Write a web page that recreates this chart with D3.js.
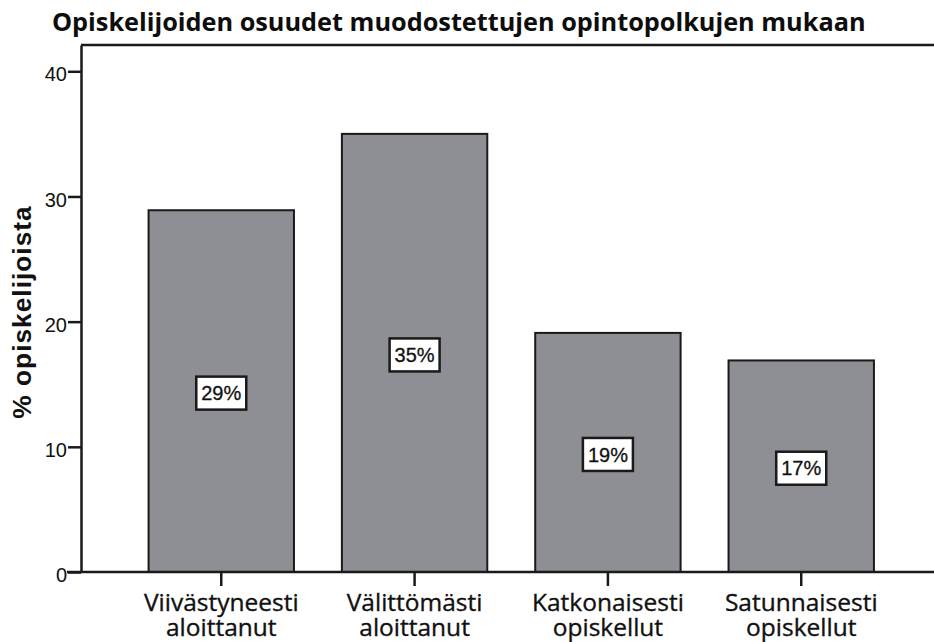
<!DOCTYPE html>
<html>
<head>
<meta charset="utf-8">
<script src="https://cdn.jsdelivr.net/npm/d3@7"></script>
<style>
  body { margin: 0; background: #fff; }
  svg { display: block; }
</style>
</head>
<body>
<svg id="chart" width="934" height="642"></svg>
<script>
// Data
var categories = ["Viivästyneesti aloittanut", "Välittömästi aloittanut", "Katkonaisesti opiskellut", "Satunnaisesti opiskellut"];
var lineOne = ["Viivästyneesti", "Välittömästi", "Katkonaisesti", "Satunnaisesti"];
var lineTwo = ["aloittanut", "aloittanut", "opiskellut", "opiskellut"];
var shares = [28.9, 35.0, 19.1, 16.9];
var yTicks = [0, 10, 20, 30, 40];

var TITLE = "Opiskelijoiden osuudet muodostettujen opintopolkujen mukaan";
var Y_LABEL = "% opiskelijoista";

var BAR_FILL = "#8e8f94";
var INK = "#1a1a1a";

var svg = d3.select("#chart");

// plot frame (note: "top" is reserved on window, so prefixed names)
var plotLeft = 81, plotRight = 934, plotTop = 45, plotBottom = 572;

var yScale = d3.scaleLinear()
    .domain([0, 42.1])
    .range([plotBottom, plotTop]);

var xScale = d3.scaleBand()
    .domain(categories)
    .range([124.6, 897.9])
    .paddingInner(0.248)
    .paddingOuter(0.124);

// fit a text node to a given width by changing its font size
function fitText(sel, width) {
  var size = parseFloat(sel.attr("font-size"));
  var w = sel.node().getComputedTextLength();
  sel.attr("font-size", (size * width / w).toFixed(2));
}

// ##### Title #####
var title = svg.append("text")
    .attr("x", 52)
    .attr("y", 31)
    .attr("font-family", "Open Sans")
    .attr("font-weight", "bold")
    .attr("font-size", 22)
    .attr("fill", "#0d0d0d")
    .text(TITLE);
fitText(title, 814);

// ##### Bars #####
svg.append("g").selectAll("rect")
    .data(shares)
    .enter()
    .append("rect")
    .attr("x", function (d, i) { return xScale(categories[i]); })
    .attr("y", function (d) { return yScale(d); })
    .attr("width", xScale.bandwidth())
    .attr("height", function (d) { return yScale(0) - yScale(d); })
    .attr("fill", BAR_FILL)
    .attr("stroke", INK)
    .attr("stroke-width", 2);

// ##### Frame and axes #####
svg.append("line")
    .attr("x1", plotLeft).attr("x2", plotRight)
    .attr("y1", plotTop).attr("y2", plotTop)
    .attr("stroke", INK).attr("stroke-width", 2.5);

var yAxis = d3.axisLeft(yScale)
    .tickValues(yTicks)
    .tickSize(13)
    .tickSizeOuter(0)
    .tickFormat(d3.format("d"));

var yg = svg.append("g")
    .attr("transform", "translate(" + plotLeft + ",0)")
    .call(yAxis);
yg.select(".domain").attr("stroke", INK).attr("stroke-width", 2.5);
yg.selectAll(".tick line").attr("stroke", INK).attr("stroke-width", 2.5);
yg.selectAll(".tick text")
    .attr("x", -14)
    .attr("dy", "0.48em")
    .attr("font-family", "Liberation Sans, Arial, sans-serif")
    .attr("font-size", 20)
    .attr("fill", "#111");

svg.append("line")
    .attr("x1", 67).attr("x2", plotRight)
    .attr("y1", plotBottom).attr("y2", plotBottom)
    .attr("stroke", INK).attr("stroke-width", 2.5);

var xAxis = d3.axisBottom(xScale)
    .tickSize(14)
    .tickSizeOuter(0)
    .tickFormat("");

var xg = svg.append("g")
    .attr("transform", "translate(0," + plotBottom + ")")
    .call(xAxis);
xg.select(".domain").remove();
xg.selectAll(".tick line").attr("stroke", INK).attr("stroke-width", 2.5);

var labels = xg.selectAll(".tick").append("text")
    .attr("text-anchor", "middle")
    .attr("font-family", "Open Sans")
    .attr("font-size", 24.5)
    .attr("fill", "#111")
    .attr("stroke", "#111")
    .attr("stroke-width", 0.35);
labels.append("tspan")
    .attr("x", 0).attr("y", 39)
    .text(function (d, i) { return lineOne[i]; });
labels.append("tspan")
    .attr("x", 0).attr("y", 64)
    .text(function (d, i) { return lineTwo[i]; });

// ##### Y label #####
var yLabel = svg.append("text")
    .attr("transform", "translate(31,312) rotate(-90)")
    .attr("text-anchor", "middle")
    .attr("font-family", "Liberation Sans, Arial, sans-serif")
    .attr("font-weight", "bold")
    .attr("font-size", 24)
    .attr("letter-spacing", 1)
    .attr("fill", "#111")
    .text(Y_LABEL);
fitText(yLabel, 215);

// ##### Value boxes #####
var boxes = svg.append("g").selectAll("g")
    .data(shares)
    .enter()
    .append("g")
    .attr("transform", function (d, i) {
      return "translate(" + (xScale(categories[i]) + xScale.bandwidth() / 2) + "," + (yScale(d / 2) + 2) + ")";
    });

boxes.append("rect")
    .attr("x", -25).attr("y", -16.5)
    .attr("width", 50).attr("height", 33)
    .attr("fill", "#fff")
    .attr("stroke", INK)
    .attr("stroke-width", 2.5);

boxes.append("text")
    .attr("text-anchor", "middle")
    .attr("dy", "0.36em")
    .attr("font-family", "Liberation Sans, Arial, sans-serif")
    .attr("font-size", 20)
    .attr("fill", "#111")
    .attr("stroke", "#111")
    .attr("stroke-width", 0.3)
    .text(function (d) { return Math.round(d) + "%"; });
</script>
</body>
</html>
